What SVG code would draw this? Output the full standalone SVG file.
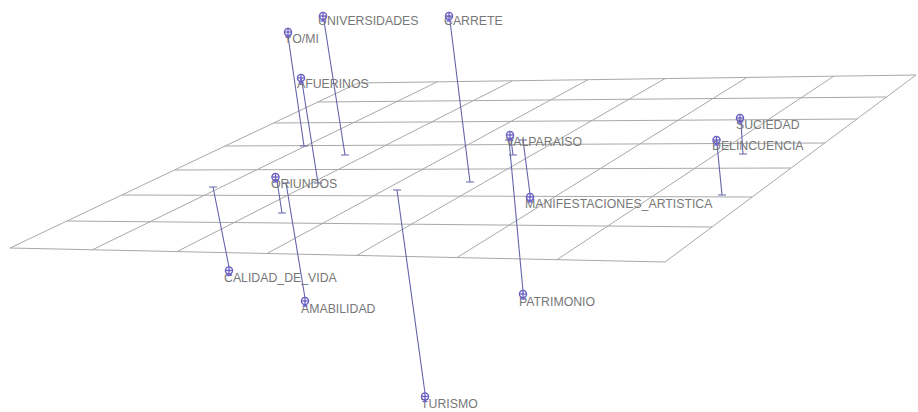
<svg xmlns="http://www.w3.org/2000/svg" xmlns:xlink="http://www.w3.org/1999/xlink" width="918" height="412" viewBox="0 0 918 412">
<style>
.g{stroke:#a8a8a8;stroke-width:1;fill:none}
.c{stroke:#6464aa;stroke-width:1.1;fill:none}
.t{font-family:"Liberation Sans",Arial,sans-serif;font-size:12.3px;fill:#777777}
.p{stroke:#6a5fc4;stroke-width:1.3;fill:none}
</style>
<defs>
<g id="pin">
<circle class="p" cx="0" cy="0" r="3.6"/>
<line class="p" x1="-3.6" y1="0" x2="3.6" y2="0"/>
<line class="p" x1="0" y1="-3.6" x2="0" y2="5"/>
<line class="p" x1="-2.5" y1="5" x2="2.5" y2="5"/>
</g>
</defs>
<rect width="918" height="412" fill="#ffffff"/>
<g id="grid">
<line class="g" x1="358" y1="83" x2="916" y2="75"/>
<line class="g" x1="318" y1="102" x2="886" y2="97"/>
<line class="g" x1="274" y1="123" x2="857" y2="119"/>
<line class="g" x1="225" y1="146" x2="825" y2="143"/>
<line class="g" x1="175" y1="170" x2="791" y2="168"/>
<line class="g" x1="122" y1="195" x2="752" y2="197"/>
<line class="g" x1="67" y1="221" x2="712" y2="227"/>
<line class="g" x1="10" y1="248" x2="665" y2="262"/>
<line class="g" x1="10" y1="248" x2="358" y2="83"/>
<line class="g" x1="92" y1="250" x2="437" y2="82"/>
<line class="g" x1="177" y1="251.6" x2="512" y2="81"/>
<line class="g" x1="267" y1="253.5" x2="588" y2="79.7"/>
<line class="g" x1="357" y1="255.4" x2="665" y2="78.6"/>
<line class="g" x1="457" y1="257.6" x2="747" y2="77.4"/>
<line class="g" x1="557" y1="259.7" x2="834" y2="76"/>
<line class="g" x1="665" y1="262" x2="916" y2="75"/>
</g>
<g id="connectors">
<path class="c" d="M324,21 L345,155 M341,155 H349"/>
<path class="c" d="M450,21 L470,182 M466,182 H474"/>
<path class="c" d="M288,36 L304,146 M300,146 H308"/>
<path class="c" d="M302,82 L318,183 M314,183 H322"/>
<path class="c" d="M277,181 L282,213 M278,213 H286"/>
<path class="c" d="M511,139 L513,155 M509,155 H517"/>
<path class="c" d="M741,122 L743,154 M739,154 H747"/>
<path class="c" d="M717,144 L722,195 M718,195 H726"/>
<path class="c" d="M530,194 L523,140 M519,140 H527"/>
<path class="c" d="M229,267 L213,187 M209,187 H217"/>
<path class="c" d="M305,298 L286,183 M282,183 H290"/>
<path class="c" d="M523,291 L509,140 M505,140 H513"/>
<path class="c" d="M425,393 L397,190 M393,190 H401"/>
</g>
<g id="n-universidades"><text class="t" x="318" y="24.5">UNIVERSIDADES</text><use xlink:href="#pin" href="#pin" x="323" y="16"/></g>
<g id="n-carrete"><text class="t" x="444" y="24.5">CARRETE</text><use xlink:href="#pin" href="#pin" x="449" y="16"/></g>
<g id="n-yomi"><text class="t" x="284" y="42.5">YO/MI</text><use xlink:href="#pin" href="#pin" x="288" y="32"/></g>
<g id="n-afuerinos"><text class="t" x="297" y="87.5">AFUERINOS</text><use xlink:href="#pin" href="#pin" x="301" y="78"/></g>
<g id="n-oriundos"><text class="t" x="271" y="187.5">ORIUNDOS</text><use xlink:href="#pin" href="#pin" x="275.5" y="177"/></g>
<g id="n-valparaiso"><text class="t" x="506" y="146">VALPARAISO</text><use xlink:href="#pin" href="#pin" x="510" y="135"/></g>
<g id="n-suciedad"><text class="t" x="736" y="129">SUCIEDAD</text><use xlink:href="#pin" href="#pin" x="740" y="118"/></g>
<g id="n-delincuencia"><text class="t" x="712" y="149.5">DELINCUENCIA</text><use xlink:href="#pin" href="#pin" x="716.5" y="140"/></g>
<g id="n-manifestaciones"><text class="t" x="525" y="207.5">MANIFESTACIONES_ARTISTICA</text><use xlink:href="#pin" href="#pin" x="530" y="197"/></g>
<g id="n-calidad"><text class="t" x="224" y="282">CALIDAD_DE_VIDA</text><use xlink:href="#pin" href="#pin" x="229" y="270.5"/></g>
<g id="n-amabilidad"><text class="t" x="301" y="312.5">AMABILIDAD</text><use xlink:href="#pin" href="#pin" x="305" y="301"/></g>
<g id="n-patrimonio"><text class="t" x="519" y="306">PATRIMONIO</text><use xlink:href="#pin" href="#pin" x="523" y="294"/></g>
<g id="n-turismo"><text class="t" x="421" y="407.5">TURISMO</text><use xlink:href="#pin" href="#pin" x="425" y="396.5"/></g>
</svg>
